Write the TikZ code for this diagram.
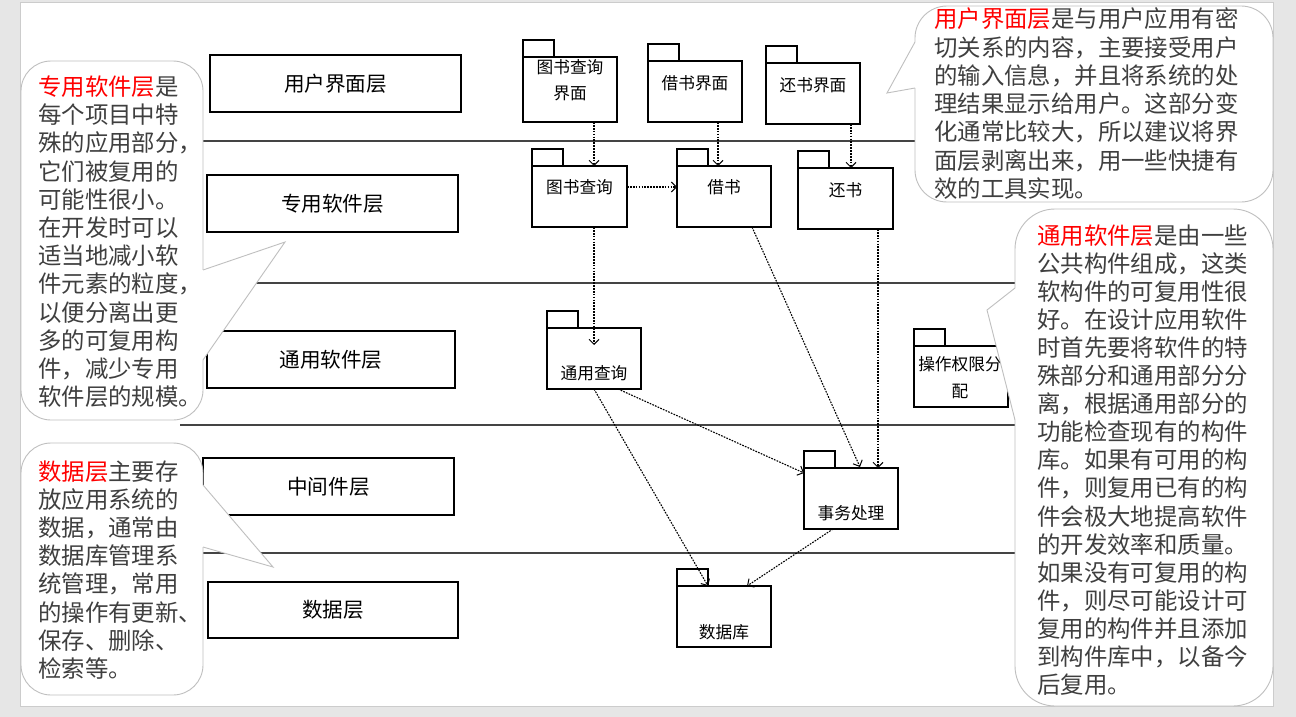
\documentclass[tikz,border=0pt]{standalone}
\usepackage{fontspec}
\newfontfamily\cjk{Noto Sans CJK SC}
\usetikzlibrary{arrows.meta}
\definecolor{txtgray}{HTML}{3F3F3F}
\definecolor{sepgray}{HTML}{444444}
\definecolor{cogray}{HTML}{BFBFBF}
\definecolor{bggray}{HTML}{E6E6E6}
\definecolor{slideedge}{HTML}{CCCCCC}
\definecolor{hired}{HTML}{FF0000}
\begin{document}
\begin{tikzpicture}[x=1pt,y=-1pt,
  layerbox/.style={draw=black,line width=1.4pt,fill=white,minimum height=57pt,inner sep=0pt,outer sep=0pt,font=\cjk\fontsize{20.6}{24}\selectfont},
  pkgbody/.style={draw=black,line width=1.4pt,fill=white,minimum width=94pt,minimum height=61pt,inner sep=0pt,outer sep=0pt},
  pkgtab/.style={draw=black,line width=1.4pt,fill=white},
  pkglabel/.style={font=\cjk\fontsize{16.7}{26}\selectfont,align=center,inner sep=0pt},
  dep/.style={line width=1.1pt,dash pattern=on 1.7pt off 1.2pt,-{Straight Barb[length=5pt,width=10pt,line width=1pt]}},
  sepline/.style={draw=sepgray,line width=1.7pt},
  callout/.style={draw=cogray,line width=0.9pt,fill=white},
  coedge/.style={draw=cogray,line width=0.9pt,line join=miter},
  ct/.style={anchor=base west,inner sep=0pt,text=txtgray,font=\cjk\fontsize{23.4}{28.2}\selectfont},
]
\useasboundingbox (0,0) rectangle (1296,717);
% background
\fill[bggray] (0,0) rectangle (1296,717);
\draw[slideedge,fill=white,line width=0.8pt] (20,2) rectangle (1273,706);

% layer separators
\draw[sepline] (203,141) -- (915,141);
\draw[sepline] (203,283) -- (1015,283);
\draw[sepline] (180,425) -- (1015,425);
\draw[sepline] (203,553) -- (1015,553);

% layer boxes
\node[layerbox,minimum width=251pt] (l1) at (335.5,83.5) {用户界面层};
\node[layerbox,minimum width=251pt] (l2) at (332.5,203.5) {专用软件层};
\node[layerbox,minimum width=248pt] (l3) at (331,359.5) {通用软件层};
\node[layerbox,minimum width=251pt] (l4) at (328.5,486.5) {中间件层};
\node[layerbox,minimum width=250pt,minimum height=56pt] (l5) at (333,610) {数据层};

% packages
\node[pkgbody,minimum height=65pt] (tqui) at (570,89.5) {};
\node[pkgbody] (jsui) at (695,91.5) {};
\node[pkgbody] (hsui) at (813,93.5) {};
\node[pkgbody,minimum width=95pt] (tq) at (579.5,196.5) {};
\node[pkgbody] (js) at (724,196.5) {};
\node[pkgbody,minimum width=95pt] (hs) at (845.5,198.5) {};
\node[pkgbody] (tycx) at (594,358.5) {};
\node[pkgbody] (czqx) at (961,376.5) {};
\node[pkgbody] (swcl) at (851,498.5) {};
\node[pkgbody] (sjk) at (724,616.5) {};
\foreach \p in {tqui,jsui,hsui,tq,js,hs,tycx,czqx,swcl,sjk}
  \draw[pkgtab] (\p.north west) rectangle ++(31,-17);

\node[pkglabel] (tquit) at (570,80) {图书查询\\界面};
\node[pkglabel] (jsuit) at (695,83) {借书界面};
\node[pkglabel] (hsuit) at (813,85) {还书界面};
\node[pkglabel] (tqt) at (579.5,187) {图书查询};
\node[pkglabel] (jst) at (724,187) {借书};
\node[pkglabel] (hst) at (845.5,190) {还书};
\node[pkglabel] (tycxt) at (594,373) {通用查询};
\node[pkglabel,font=\cjk\fontsize{16.7}{27}\selectfont] (czqxt) at (960,378) {操作权限分\\配};
\node[pkglabel] (swclt) at (851,513) {事务处理};
\node[pkglabel] (sjkt) at (724,632) {数据库};

% dependencies
\draw[dep] ([xshift=24pt]tqui.south) -- ([xshift=14.5pt]tq.north);
\draw[dep] ([xshift=23pt]jsui.south) -- ([xshift=-6pt]js.north);
\draw[dep] ([xshift=38pt]hsui.south) -- ([xshift=5.5pt]hs.north);
\draw[dep] ([yshift=9.5pt]tq.east) -- ([yshift=9.5pt]js.west);
\draw[dep] ([xshift=14.5pt]tq.south) -- ([yshift=13.5pt]tycx.center);
\draw[dep] ([xshift=28pt]js.south) -- ([xshift=9pt,yshift=1pt]swcl.north);
\draw[dep] ([xshift=32.5pt]hs.south) -- ([xshift=27pt]swcl.north);
\draw[dep] ([xshift=24pt]tycx.south) -- ([yshift=-5pt]swcl.north west);
\draw[dep] (tycx.south) -- ([xshift=31pt]sjk.north west);
\draw[dep] ([xshift=-18pt]swcl.south) -- ([xshift=23pt]sjk.north);

% callout: 专用软件层
\draw[callout,rounded corners=30pt] (21,61) rectangle (203,420);
\fill[white] (201,270) -- (203,270) -- (285,242) -- (203,360) -- (201,360) -- cycle;
\draw[coedge] (203,270) -- (285,242) -- (203,360);
\foreach \t [count=\i from 0] in {{\textcolor{hired}{专用软件层}是},每个项目中特,殊的应用部分，,它们被复用的,可能性很小。,在开发时可以,适当地减小软,件元素的粒度，,以便分离出更,多的可复用构,件，减少专用,软件层的规模。}
  \node[ct] (za\i) at (38,95.5+28.2*\i) {\t};

% callout: 数据层
\draw[callout,rounded corners=30pt] (21,443) rectangle (203,695);
\fill[white] (201,485) -- (203,485) -- (273,567) -- (203,547) -- (201,547) -- cycle;
\draw[coedge] (203,485) -- (273,567) -- (203,547);
\foreach \t [count=\i from 0] in {{\textcolor{hired}{数据层}主要存},放应用系统的,数据，通常由,数据库管理系,统管理，常用,的操作有更新、,保存、删除、,检索等。}
  \node[ct] (zb\i) at (38,480+28.2*\i) {\t};

% callout: 用户界面层
\draw[callout,rounded corners=32pt] (915,6) rectangle (1273,202);
\fill[white] (917,42) -- (915,42) -- (887,93) -- (915,88) -- (917,88) -- cycle;
\draw[coedge] (915,42) -- (887,93) -- (915,88);
\foreach \t [count=\i from 0] in {{\textcolor{hired}{用户界面层}是与用户应用有密},切关系的内容，主要接受用户,的输入信息，并且将系统的处,理结果显示给用户。这部分变,化通常比较大，所以建议将界,面层剥离出来，用一些快捷有,效的工具实现。}
  \node[ct] (zc\i) at (934,28+28.2*\i) {\t};

% callout: 通用软件层
\draw[callout,rounded corners=40pt] (1015,209) rectangle (1273,706);
\fill[white] (1017,288) -- (1015,288) -- (987,310) -- (1015,420) -- (1017,420) -- cycle;
\draw[coedge] (1015,288) -- (987,310) -- (1015,420);
\foreach \t [count=\i from 0] in {{\textcolor{hired}{通用软件层}是由一些},公共构件组成，这类,软构件的可复用性很,好。在设计应用软件,时首先要将软件的特,殊部分和通用部分分,离，根据通用部分的,功能检查现有的构件,库。如果有可用的构,件，则复用已有的构,件会极大地提高软件,的开发效率和质量。,如果没有可复用的构,件，则尽可能设计可,复用的构件并且添加,到构件库中，以备今,后复用。}
  \node[ct] (zd\i) at (1037,244+28.1*\i) {\t};
\end{tikzpicture}
\end{document}
